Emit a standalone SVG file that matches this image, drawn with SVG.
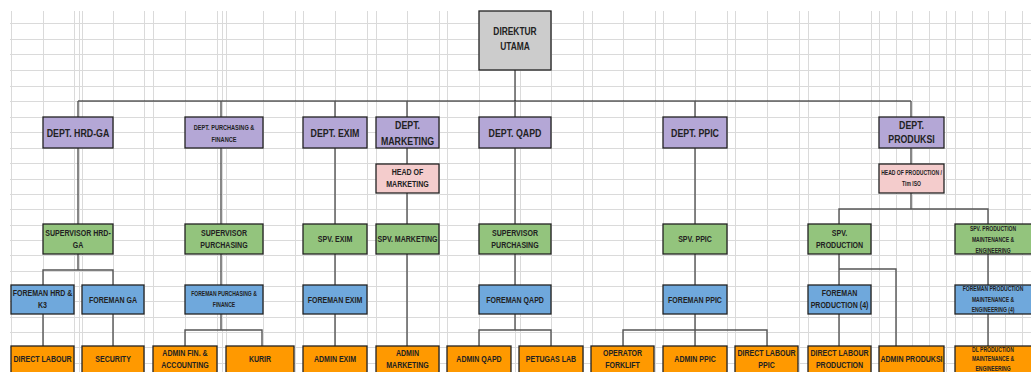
<svg xmlns="http://www.w3.org/2000/svg" width="1031" height="372" viewBox="0 0 1031 372">
<style>
.g{stroke:#dadada;stroke-width:1;fill:none}
.c{stroke:#555;stroke-width:1.4;fill:none}
.cb{stroke:#111;stroke-width:1.2;fill:none}
.box{stroke:#222;stroke-width:1.3}
.dir{fill:#cccccc}.dept{fill:#b4a7d6}.head{fill:#f4cccc}.spv{fill:#93c47d}.fm{fill:#6fa8dc}.st{fill:#ff9900}
text{font-family:"Liberation Sans Narrow","Liberation Sans",Arial,sans-serif;font-weight:bold;fill:#222;text-anchor:middle;transform-box:fill-box;transform-origin:center;transform:scaleX(0.8)}
.t12{font-size:11px}.t11{font-size:10.5px}.t9{font-size:8.8px}.t7{font-size:7px}.t6{font-size:6.3px}
</style>
<rect width="1031" height="372" fill="#ffffff"/>
<g id="grid" shape-rendering="crispEdges">
<path class="g" d="M11 11V372M43 11V372M74 11V372M79 11V372M82 11V372M113 11V372M144 11V372M153 11V372M185 11V372M217 11V372M222 11V372M226 11V372M263 11V372M295 11V372M303 11V372M335 11V372M367 11V372M376 11V372M407 11V372M439 11V372M447 11V372M479 11V372M515 11V372M520 11V372M551 11V372M583 11V372M592 11V372M623 11V372M655 11V372M663 11V372M695 11V372M727 11V372M735 11V372M767 11V372M799 11V372M808 11V372M839 11V372M871 11V372M879 11V372M896 11V372M912 11V372M929 11V372M946 11V372M955 11V372M972 11V372M988 11V372M1005 11V372M1022 11V372"/>
<path class="g" d="M10 23H1031M10 39H1031M10 54H1031M10 70H1031M10 86H1031M10 101H1031M10 117H1031M10 132H1031M10 148H1031M10 163H1031M10 179H1031M10 194H1031M10 209H1031M10 225H1031M10 240H1031M10 255H1031M10 271H1031M10 286H1031M10 301H1031M10 317H1031M10 332H1031M10 347H1031M10 363H1031"/>
</g>
<g id="connectors">
<path class="c" d="M515 70V101"/>
<path class="cb" d="M78 101H911"/>
<path class="c" d="M78 101V117M221 101V117M335 101V117M407 101V117M515 101V117M695 101V117M911 101V117"/>
<path class="c" d="M78 148V224M78 254V270M43 285V270H113V285M43 314V346M113 314V346"/>
<path class="c" d="M221 148V224M221 254V285M221 314V330M185 346V330H262V346"/>
<path class="c" d="M335 148V224M335 254V285M335 314V346"/>
<path class="c" d="M407 148V164M407 193V224M407 254V346"/>
<path class="c" d="M515 148V224M515 254V285M515 314V330M479 346V330H551V346"/>
<path class="c" d="M695 148V224M695 254V285M695 314V346M623 346V330H767V346"/>
<path class="c" d="M911 148V164M911 193V209M839 224V209H988V224M839 254V285M839 314V346M839 269H896V346M988 254V285M988 314V346"/>
</g>
<g id="direktur-utama"><rect class="box dir" x="479" y="11" width="72" height="59"/><text class="t11"><tspan x="515" y="35">DIREKTUR</tspan><tspan x="515" y="50">UTAMA</tspan></text></g>
<g id="dept-hrd-ga"><rect class="box dept" x="43" y="117" width="70" height="31"/><text class="t12" x="78" y="137">DEPT. HRD-GA</text></g>
<g id="dept-purchasing"><rect class="box dept" x="185" y="117" width="78" height="31"/><text class="t7"><tspan x="224" y="130">DEPT. PURCHASING &amp;</tspan><tspan x="224" y="142">FINANCE</tspan></text></g>
<g id="dept-exim"><rect class="box dept" x="303" y="117" width="64" height="31"/><text class="t12" x="335" y="137">DEPT. EXIM</text></g>
<g id="dept-marketing"><rect class="box dept" x="376" y="117" width="63" height="31"/><text class="t12"><tspan x="407.5" y="129.5">DEPT.</tspan><tspan x="407.5" y="145.5">MARKETING</tspan></text></g>
<g id="dept-qapd"><rect class="box dept" x="479" y="117" width="72" height="31"/><text class="t12" x="515" y="137">DEPT. QAPD</text></g>
<g id="dept-ppic"><rect class="box dept" x="663" y="117" width="64" height="31"/><text class="t12" x="695" y="137">DEPT. PPIC</text></g>
<g id="dept-produksi"><rect class="box dept" x="879" y="117" width="65" height="31"/><text class="t12"><tspan x="911.5" y="129.5">DEPT.</tspan><tspan x="911.5" y="143">PRODUKSI</tspan></text></g>
<g id="head-marketing"><rect class="box head" x="376" y="164" width="63" height="29"/><text class="t9"><tspan x="407.5" y="175.5">HEAD OF</tspan><tspan x="407.5" y="187">MARKETING</tspan></text></g>
<g id="head-production"><rect class="box head" x="879" y="164" width="65" height="29"/><text class="t6"><tspan x="911.5" y="175">HEAD OF PRODUCTION /</tspan><tspan x="911.5" y="186.5">Tim ISO</tspan></text></g>
<g id="spv-hrd-ga"><rect class="box spv" x="43" y="224" width="70" height="30"/><text class="t9"><tspan x="78" y="236.5">SUPERVISOR HRD-</tspan><tspan x="78" y="248.5">GA</tspan></text></g>
<g id="spv-purchasing"><rect class="box spv" x="185" y="224" width="78" height="30"/><text class="t9"><tspan x="224" y="236.5">SUPERVISOR</tspan><tspan x="224" y="248.5">PURCHASING</tspan></text></g>
<g id="spv-exim"><rect class="box spv" x="303" y="224" width="64" height="30"/><text class="t9" x="335" y="242.5">SPV. EXIM</text></g>
<g id="spv-marketing"><rect class="box spv" x="376" y="224" width="63" height="30"/><text class="t9" x="407.5" y="242.5">SPV. MARKETING</text></g>
<g id="spv-qapd"><rect class="box spv" x="479" y="224" width="72" height="30"/><text class="t9"><tspan x="515" y="236.5">SUPERVISOR</tspan><tspan x="515" y="248.5">PURCHASING</tspan></text></g>
<g id="spv-ppic"><rect class="box spv" x="663" y="224" width="64" height="30"/><text class="t9" x="695" y="242.5">SPV. PPIC</text></g>
<g id="spv-production"><rect class="box spv" x="808" y="224" width="63" height="30"/><text class="t9"><tspan x="839.5" y="236.5">SPV.</tspan><tspan x="839.5" y="248.5">PRODUCTION</tspan></text></g>
<g id="spv-maintenance"><rect class="box spv" x="955" y="224" width="77" height="30"/><text class="t6"><tspan x="993" y="231.5">SPV. PRODUCTION</tspan><tspan x="993" y="242.5">MAINTENANCE &amp;</tspan><tspan x="993" y="253.5">ENGINEERING</tspan></text></g>
<g id="foreman-hrd-k3"><rect class="box fm" x="11" y="285" width="63" height="29"/><text class="t9"><tspan x="42.5" y="296.5">FOREMAN HRD &amp;</tspan><tspan x="42.5" y="308.5">K3</tspan></text></g>
<g id="foreman-ga"><rect class="box fm" x="82" y="285" width="62" height="29"/><text class="t9" x="113" y="303">FOREMAN GA</text></g>
<g id="foreman-purchasing"><rect class="box fm" x="185" y="285" width="78" height="29"/><text class="t6"><tspan x="224" y="296.5">FOREMAN PURCHASING &amp;</tspan><tspan x="224" y="307.5">FINANCE</tspan></text></g>
<g id="foreman-exim"><rect class="box fm" x="303" y="285" width="64" height="29"/><text class="t9" x="335" y="303">FOREMAN EXIM</text></g>
<g id="foreman-qapd"><rect class="box fm" x="479" y="285" width="72" height="29"/><text class="t9" x="515" y="303">FOREMAN QAPD</text></g>
<g id="foreman-ppic"><rect class="box fm" x="663" y="285" width="64" height="29"/><text class="t9" x="695" y="303">FOREMAN PPIC</text></g>
<g id="foreman-production"><rect class="box fm" x="808" y="285" width="63" height="29"/><text class="t9"><tspan x="839.5" y="296.5">FOREMAN</tspan><tspan x="839.5" y="308.5">PRODUCTION (4)</tspan></text></g>
<g id="foreman-maintenance"><rect class="box fm" x="955" y="285" width="77" height="29"/><text class="t6"><tspan x="993" y="291.5">FOREMAN PRODUCTION</tspan><tspan x="993" y="302">MAINTENANCE &amp;</tspan><tspan x="993" y="312.5">ENGINEERING (4)</tspan></text></g>
<g id="direct-labour"><rect class="box st" x="11" y="346" width="63" height="32"/><text class="t9" x="42.5" y="362.5">DIRECT LABOUR</text></g>
<g id="security"><rect class="box st" x="82" y="346" width="62" height="32"/><text class="t9" x="113" y="362.5">SECURITY</text></g>
<g id="admin-fin"><rect class="box st" x="153" y="346" width="64" height="32"/><text class="t9"><tspan x="185" y="356.5">ADMIN FIN. &amp;</tspan><tspan x="185" y="368.5">ACCOUNTING</tspan></text></g>
<g id="kurir"><rect class="box st" x="226" y="346" width="68" height="32"/><text class="t9" x="260" y="362.5">KURIR</text></g>
<g id="admin-exim"><rect class="box st" x="303" y="346" width="64" height="32"/><text class="t9" x="335" y="362.5">ADMIN EXIM</text></g>
<g id="admin-marketing"><rect class="box st" x="376" y="346" width="63" height="32"/><text class="t9"><tspan x="407.5" y="356.5">ADMIN</tspan><tspan x="407.5" y="368.5">MARKETING</tspan></text></g>
<g id="admin-qapd"><rect class="box st" x="447" y="346" width="64" height="32"/><text class="t9" x="479" y="362.5">ADMIN QAPD</text></g>
<g id="petugas-lab"><rect class="box st" x="519" y="346" width="64" height="32"/><text class="t9" x="551" y="362.5">PETUGAS LAB</text></g>
<g id="operator-forklift"><rect class="box st" x="591" y="346" width="63" height="32"/><text class="t9"><tspan x="622.5" y="356.5">OPERATOR</tspan><tspan x="622.5" y="368.5">FORKLIFT</tspan></text></g>
<g id="admin-ppic"><rect class="box st" x="663" y="346" width="64" height="32"/><text class="t9" x="695" y="362.5">ADMIN PPIC</text></g>
<g id="direct-labour-ppic"><rect class="box st" x="735" y="346" width="63" height="32"/><text class="t9"><tspan x="766.5" y="356.5">DIRECT LABOUR</tspan><tspan x="766.5" y="368.5">PPIC</tspan></text></g>
<g id="direct-labour-production"><rect class="box st" x="808" y="346" width="63" height="32"/><text class="t9"><tspan x="839.5" y="356.5">DIRECT LABOUR</tspan><tspan x="839.5" y="368.5">PRODUCTION</tspan></text></g>
<g id="admin-produksi"><rect class="box st" x="879" y="346" width="65" height="32"/><text class="t9" x="911.5" y="362.5">ADMIN PRODUKSI</text></g>
<g id="dl-maintenance"><rect class="box st" x="955" y="346" width="77" height="32"/><text class="t6"><tspan x="993" y="352">DL PRODUCTION</tspan><tspan x="993" y="361.5">MAINTENANCE &amp;</tspan><tspan x="993" y="371">ENGINEERING</tspan></text></g>
</svg>
